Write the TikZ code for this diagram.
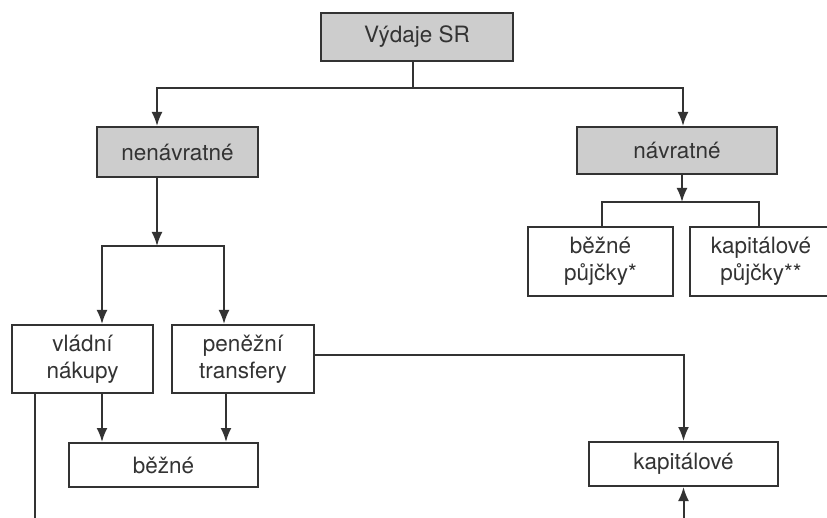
\documentclass[tikz,border=0pt]{standalone}
\usepackage{fontspec}
\setmainfont{TeX Gyre Heros}
\usetikzlibrary{arrows.meta}
\definecolor{ink}{HTML}{333333}
\definecolor{boxgray}{HTML}{CDCDCD}
\tikzset{
  box/.style={draw=ink, line width=2pt, text=ink, inner sep=0pt, align=center,
    font=\fontsize{22.5}{27}\selectfont},
  graybox/.style={box, fill=boxgray},
  conn/.style={draw=ink, line width=2pt},
  arr/.style={conn, -{Latex[length=14pt,width=11pt]}}
}
\begin{document}
\begin{tikzpicture}[x=1pt,y=-1pt]
\useasboundingbox[fill=white] (0,0) rectangle (827,518);
\node[graybox, minimum width=192pt, minimum height=48pt] (vyd) at (417,37) {Výdaje SR};
\node[graybox, minimum width=161pt, minimum height=50pt] (nen) at (177.5,152) {nenávratné};
\node[graybox, minimum width=200pt, minimum height=47pt] (nav) at (677,150.5) {návratné};
\node[box, minimum width=145pt, minimum height=69pt] (bp) at (600.5,261.5) {běžné\\půjčky*};
\node[box, minimum width=142pt, minimum height=69pt] (kp) at (761,261.5) {kapitálové\\půjčky**};
\node[box, minimum width=141pt, minimum height=68pt] (vla) at (82.5,359) {vládní\\nákupy};
\node[box, minimum width=142pt, minimum height=68pt] (pen) at (243,359) {peněžní\\transfery};
\node[box, minimum width=189pt, minimum height=44pt] (bez) at (163.5,465) {běžné};
\node[box, minimum width=189pt, minimum height=44pt] (kap) at (683.5,464) {kapitálové};
% top split
\draw[conn] ([xshift=-4pt]vyd.south) -- ++(0,26) coordinate (j1);
\draw[arr] (j1) -| ([xshift=-20.5pt]nen.north);
\draw[arr] (j1) -| ([xshift=6pt]nav.north);
% nenavratne split
\draw[arr] ([xshift=-20.5pt]nen.south) -- ++(0,68) coordinate (j2);
\draw[arr] (j2) -| ([xshift=19.5pt]vla.north);
\draw[arr] (j2) -| ([xshift=-19pt]pen.north);
% navratne split
\draw[arr] ([xshift=5pt]nav.south) -- ++(0,27) coordinate (j3);
\draw[conn] (j3) -| ([xshift=1.5pt]bp.north);
\draw[conn] (j3) -| ([xshift=-2pt]kp.north);
% to bezne
\draw[arr] ([xshift=19.5pt]vla.south) -- ([xshift=19.5pt]vla.south |- bez.north);
\draw[arr] ([xshift=-17pt]pen.south) -- ([xshift=-17pt]pen.south |- bez.north);
% transfery to kapitalove
\draw[arr] ([yshift=4pt]pen.east) -| (kap.north);
% cut-off lines at the bottom
\coordinate (bl) at (35,520);
\coordinate (br) at (683.5,520);
\draw[conn] ([xshift=-47.5pt]vla.south) -- (bl);
\draw[arr] (br) -- (kap.south);
\end{tikzpicture}
\end{document}
